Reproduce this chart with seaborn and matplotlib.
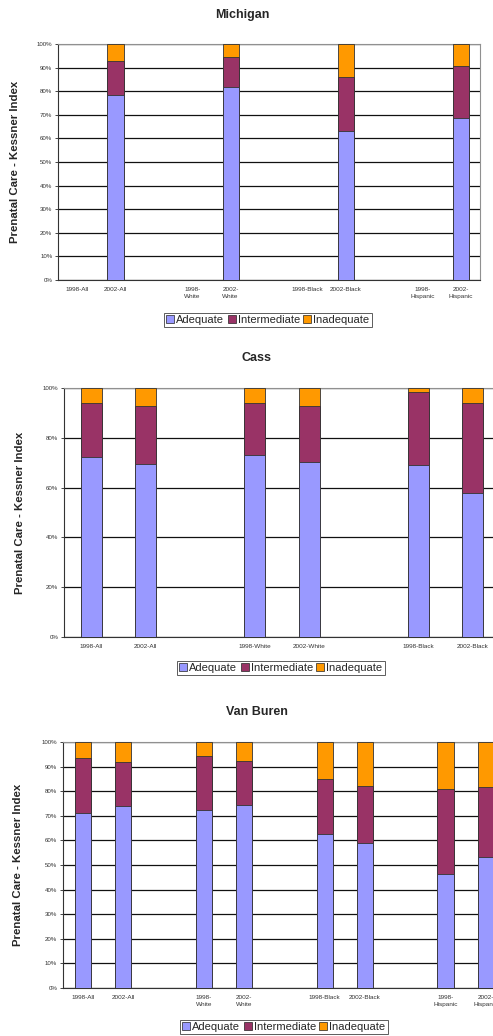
import pandas as pd
import numpy as np
import seaborn as sns
import matplotlib.pyplot as plt
from matplotlib.patches import Patch
from matplotlib.ticker import FixedLocator, PercentFormatter

# slot keys (blank slots separate the groups) and what is printed under them
slots = ["1998-All", "2002-All", "gap1", "1998-White", "2002-White", "gap2",
         "1998-Black", "2002-Black", "gap3", "1998-Hispanic", "2002-Hispanic"]
labels_wrapped = ["1998-All", "2002-All", "", "1998-\nWhite", "2002-\nWhite", "",
                  "1998-Black", "2002-Black", "", "1998-\nHispanic", "2002-\nHispanic"]
labels_flat = ["1998-All", "2002-All", "", "1998-White", "2002-White", "",
               "1998-Black", "2002-Black", "", "1998-Hispanic", "2002-Hispanic"]

groups = ["1998-All", "2002-All", "1998-White", "2002-White",
          "1998-Black", "2002-Black", "1998-Hispanic", "2002-Hispanic"]

# percent of births in each Kessner class (None = not shown)
mi_adequate     = [None, 78.4, None, 81.6, None, 63.1, None, 68.8]
mi_intermediate = [None, 14.4, None, 12.8, None, 22.8, None, 22.0]
mi_inadequate   = [None, 7.2, None, 5.6, None, 14.1, None, 9.2]

cass_adequate     = [72.2, 69.5, 73.2, 70.1, 69.1, 57.7, None, None]
cass_intermediate = [21.8, 23.4, 20.8, 22.8, 29.2, 36.3, None, None]
cass_inadequate   = [6.0, 7.1, 6.0, 7.1, 1.7, 6.0, None, None]

vb_adequate     = [71.1, 73.8, 72.5, 74.5, 62.7, 58.9, 46.3, 53.4]
vb_intermediate = [22.4, 17.9, 21.9, 17.9, 22.4, 23.3, 34.7, 28.2]
vb_inadequate   = [6.5, 8.3, 5.6, 7.6, 14.9, 17.8, 19.0, 18.4]

C_ADEQ = "#9999FF"
C_INTER = "#993366"
C_INADEQ = "#FF9900"

sns.set_style("white")
plt.rcParams["font.family"] = ["Liberation Sans", "DejaVu Sans"]

fig = plt.figure(figsize=(4.93, 10.36), dpi=100)


def panel(rect, title, title_xy, adequate, intermediate, inadequate,
          tick_labels, ystep, width, ylab_x, legend_xy):
    ax = fig.add_axes(rect)
    df = pd.DataFrame({"cat": groups, "a": adequate, "b": intermediate, "c": inadequate}).dropna()
    df["ab"] = df["a"] + df["b"]
    df["abc"] = df["ab"] + df["c"]
    for col, colour in [("abc", C_INADEQ), ("ab", C_INTER), ("a", C_ADEQ)]:
        sns.barplot(data=df, x="cat", y=col, order=slots, color=colour, width=width,
                    edgecolor="#333333", linewidth=0.6, saturation=1, ax=ax, zorder=3)
    ax.set_xlim(-0.5, len(slots) - 0.5)
    ax.set_ylim(0, 100)
    ax.set_yticks(np.arange(0, 101, ystep))
    ax.yaxis.set_major_formatter(PercentFormatter(decimals=0))
    ax.yaxis.grid(True, color="#111111", linewidth=0.9, zorder=0)
    ax.set_axisbelow(True)
    ax.set_xticks(range(len(slots)))
    ax.set_xticklabels(tick_labels, fontsize=4.6, color="#333333", linespacing=1.4)
    ax.xaxis.set_minor_locator(FixedLocator(np.arange(-0.5, len(slots), 1)))
    ax.tick_params(axis="x", which="major", length=0, pad=5)
    ax.tick_params(axis="x", which="minor", length=2.5, width=0.6, direction="out", color="#333333")
    ax.tick_params(axis="y", which="major", length=2.5, width=0.6, direction="out",
                   labelsize=4.4, labelcolor="#333333", left=True, pad=1.5)
    ax.set_xlabel("")
    ax.set_ylabel("Prenatal Care - Kessner Index", fontsize=8.2, fontweight="bold")
    ax.yaxis.set_label_coords(ylab_x, 0.5)
    for side in ["left", "bottom"]:
        ax.spines[side].set_color("#333333")
        ax.spines[side].set_linewidth(0.8)
    for side in ["top", "right"]:
        ax.spines[side].set_color("#909090")
        ax.spines[side].set_linewidth(0.8)
    fig.text(title_xy[0], title_xy[1], title, ha="center", va="center",
             fontsize=9, fontweight="bold")
    handles = [Patch(facecolor=C_ADEQ, edgecolor="#222222", linewidth=0.5, label="Adequate"),
               Patch(facecolor=C_INTER, edgecolor="#222222", linewidth=0.5, label="Intermediate"),
               Patch(facecolor=C_INADEQ, edgecolor="#222222", linewidth=0.5, label="Inadequate")]
    leg = fig.legend(handles=handles, loc="center", bbox_to_anchor=legend_xy, ncol=3,
                     fontsize=8, frameon=True, fancybox=False, handlelength=0.7,
                     handleheight=0.7, handletextpad=0.2, columnspacing=0.3,
                     borderpad=0.2, borderaxespad=0)
    leg.get_frame().set_edgecolor("#333333")
    leg.get_frame().set_linewidth(0.7)
    return ax


W, H = 493.0, 1036.0


def rect(x0, x1, ytop, ybot):
    return [x0 / W, 1 - ybot / H, (x1 - x0) / W, (ybot - ytop) / H]


panel(rect(58, 480, 44, 280), "Michigan", (242 / W, 1 - 15 / H),
      mi_adequate, mi_intermediate, mi_inadequate, labels_wrapped, 10, 0.42,
      -0.09, (268 / W, 1 - 320 / H))

panel(rect(64, 64 + 11 * 54.5, 388, 637), "Cass", (256 / W, 1 - 358 / H),
      cass_adequate, cass_intermediate, cass_inadequate, labels_flat, 20, 0.39,
      -0.065, (281 / W, 1 - 668 / H))

panel(rect(62.7, 62.7 + 11 * 40.3, 742, 988), "Van Buren", (257 / W, 1 - 712 / H),
      vb_adequate, vb_intermediate, vb_inadequate, labels_wrapped, 10, 0.4,
      -0.09, (284 / W, 1 - 1027 / H))

fig.savefig("out.png", dpi=100)
